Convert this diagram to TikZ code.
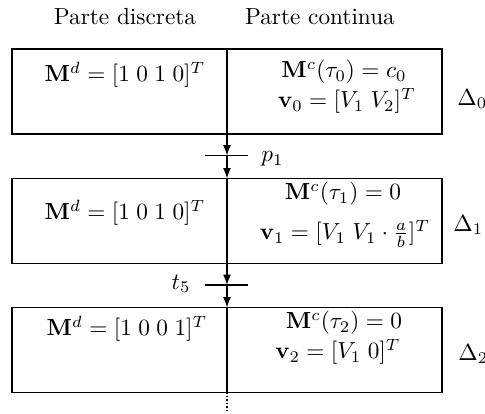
\documentclass[tikz,border=0pt]{standalone}
\usepackage{amsmath}
\usetikzlibrary{arrows.meta}
\begin{document}
\begin{tikzpicture}[x=0.43pt,y=-0.43pt,
  statebox/.style={draw, line width=0.5pt, minimum width=430*0.43pt, minimum height=85*0.43pt, inner sep=0pt, outer sep=0pt},
  lbl/.style={inner sep=0pt, anchor=center},
  arr/.style={-{Latex[length=4.5pt,width=3.4pt]}, line width=0.5pt},
  bar/.style={line width=0.5pt}]
\useasboundingbox (0,0) rectangle (485,414);
% headers
\node[lbl] (hd) at (125,17) {Parte discreta};
\node[lbl] (hc) at (320,17) {Parte continua};
% boxes
\node[statebox] (b0) at (227,91.5) {};
\node[statebox] (b1) at (227,221) {};
\node[statebox] (b2) at (227,350) {};
% dividers
\draw[line width=0.5pt] (b0.north) -- (b0.south);
\draw[line width=0.5pt] (b1.north) -- (b1.south);
\draw[line width=0.5pt] (b2.north) -- (b2.south);
\coordinate (endd) at (227,413);
\draw[densely dotted, line width=0.5pt] (b2.south) -- (endd);
% transitions
\coordinate (p1) at (227,155.5);
\coordinate (p1l) at (205,155.5);
\coordinate (p1r) at (248,155.5);
\draw[bar] (p1l) -- (p1r);
\draw[arr] (b0.south) -- (p1);
\draw[arr] (p1) -- (b1.north);
\node[lbl, anchor=west] (lp1) at (261,159) {$p_1$};
\coordinate (t5) at (227,285);
\coordinate (t5l) at (205,285);
\coordinate (t5r) at (248,285);
\draw[bar] (t5l) -- (t5r);
\draw[arr] (b1.south) -- (t5);
\draw[arr] (t5) -- (b2.north);
\node[lbl, anchor=east] (lt5) at (191,284) {$t_5$};
% box 0 texts
\node[lbl] (d0) at (125,75) {$\mathbf{M}^d = [1\;0\;1\;0]^T$};
\node[lbl] (c0a) at (344,72) {$\mathbf{M}^c(\tau_0) = c_0$};
\node[lbl] (c0b) at (347,101) {$\mathbf{v}_0 = [V_1\;V_2]^T$};
\node[lbl, anchor=west] (D0) at (457,99) {$\Delta_0$};
% box 1 texts
\node[lbl] (d1) at (125,213) {$\mathbf{M}^d = [1\;0\;1\;0]^T$};
\node[lbl] (c1a) at (343,194) {$\mathbf{M}^c(\tau_1) = 0$};
\node[lbl] (c1b) at (345,234) {$\mathbf{v}_1 = [V_1\;V_1\cdot \frac{a}{b}]^T$};
\node[lbl, anchor=west] (D1) at (453,225) {$\Delta_1$};
% box 2 texts
\node[lbl] (d2) at (127,329) {$\mathbf{M}^d = [1\;0\;0\;1]^T$};
\node[lbl] (c2a) at (344,323) {$\mathbf{M}^c(\tau_2) = 0$};
\node[lbl] (c2b) at (338,352) {$\mathbf{v}_2 = [V_1\;0]^T$};
\node[lbl, anchor=west] (D2) at (458,354) {$\Delta_2$};
\end{tikzpicture}
\end{document}
